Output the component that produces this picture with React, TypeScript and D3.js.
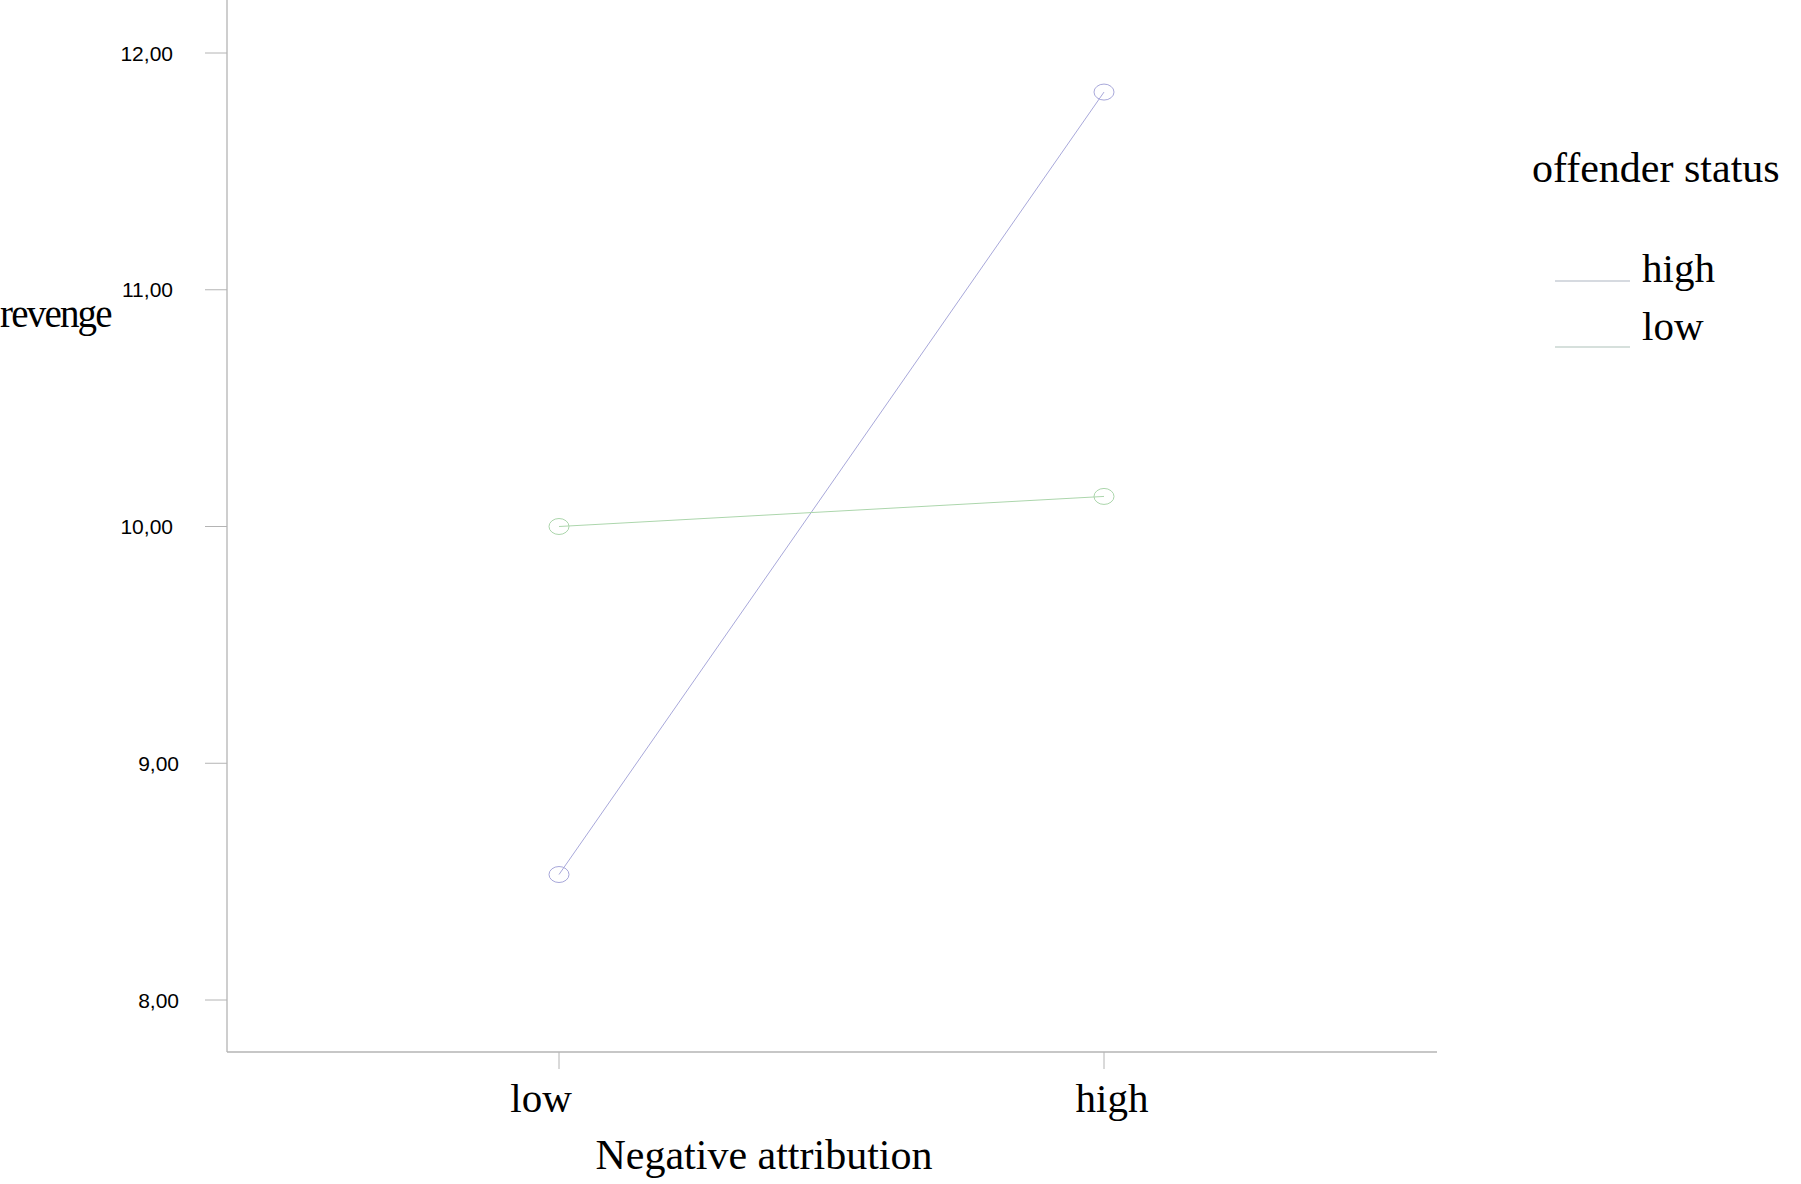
import React from "react";
import * as d3 from "d3";

const categories = ["low", "high"];
const seriesNames = ["high", "low"];
const highStatus = [8.53, 11.835];
const lowStatus = [10.0, 10.127];
const yTicks = [8, 9, 10, 11, 12];
const seriesColors = ["#a8a8da", "#acd6ac"];
const legendColors = ["#c8ced6", "#c8d6d0"];

export default function App() {
  const W = 1801, H = 1184;
  const axisX = 227, axisBottom = 1052, axisRight = 1437;
  const y = d3.scaleLinear().domain([8, 12]).range([1000, 53]);
  const x = d3.scalePoint<string>().domain(categories).range([559, 1104]);
  const line = d3.line<[string, number]>().x((d) => x(d[0])!).y((d) => y(d[1]));
  const series = [highStatus, lowStatus];
  const fmt = (v: number) => v.toFixed(2).replace(".", ",");
  const serif = "'Liberation Serif', 'Times New Roman', serif";
  const sans = "'Liberation Sans', Arial, sans-serif";
  const labelDx = [-18, 8];

  return (
    <svg width={W} height={H} style={{ position: "absolute", left: 0, top: 0, background: "#fff" }}>
      {/* axes */}
      <line x1={axisX} y1={0} x2={axisX} y2={axisBottom} stroke="#b4b4b4" strokeWidth={1.3} />
      <line x1={axisX} y1={axisBottom} x2={axisRight} y2={axisBottom} stroke="#b4b4b4" strokeWidth={1.3} />
      {yTicks.map((t) => (
        <g key={t}>
          <line x1={205} x2={axisX} y1={y(t)} y2={y(t)} stroke="#b4b4b4" strokeWidth={1} />
          <text x={t < 10 ? 179 : 173} y={y(t)} dy="0.36em" textAnchor="end" fontFamily={sans} fontSize={21} fill="#000">
            {fmt(t)}
          </text>
        </g>
      ))}
      {categories.map((c, i) => (
        <g key={c}>
          <line x1={x(c)} x2={x(c)} y1={axisBottom} y2={1069} stroke="#b4b4b4" strokeWidth={1} />
          <text x={x(c)! + labelDx[i]} y={1112} textAnchor="middle" fontFamily={serif} fontSize={41} fill="#000">
            {c}
          </text>
        </g>
      ))}
      <text x={764} y={1169} textAnchor="middle" fontFamily={serif} fontSize={42} fill="#000">
        Negative attribution
      </text>
      <text x={0} y={327} fontFamily={serif} fontSize={39} letterSpacing={-1.8} fill="#000">
        revenge
      </text>

      {/* series */}
      {series.map((vals, si) => (
        <g key={si}>
          <path
            d={line(categories.map((c, i) => [c, vals[i]]))!}
            fill="none"
            stroke={seriesColors[si]}
            strokeWidth={1}
          />
          {categories.map((c, i) => (
            <ellipse key={c} cx={x(c)} cy={y(vals[i])} rx={10} ry={8} fill="none" stroke={seriesColors[si]} strokeWidth={1} />
          ))}
        </g>
      ))}

      {/* legend */}
      <text x={1532} y={182} fontFamily={serif} fontSize={42} fill="#000">
        offender status
      </text>
      {seriesNames.map((n, i) => (
        <g key={n}>
          <line x1={1555} x2={1630} y1={281 + i * 66} y2={281 + i * 66} stroke={legendColors[i]} strokeWidth={1.3} />
          <text x={1642} y={282 + i * 58} fontFamily={serif} fontSize={41} fill="#000">
            {n}
          </text>
        </g>
      ))}
    </svg>
  );
}
